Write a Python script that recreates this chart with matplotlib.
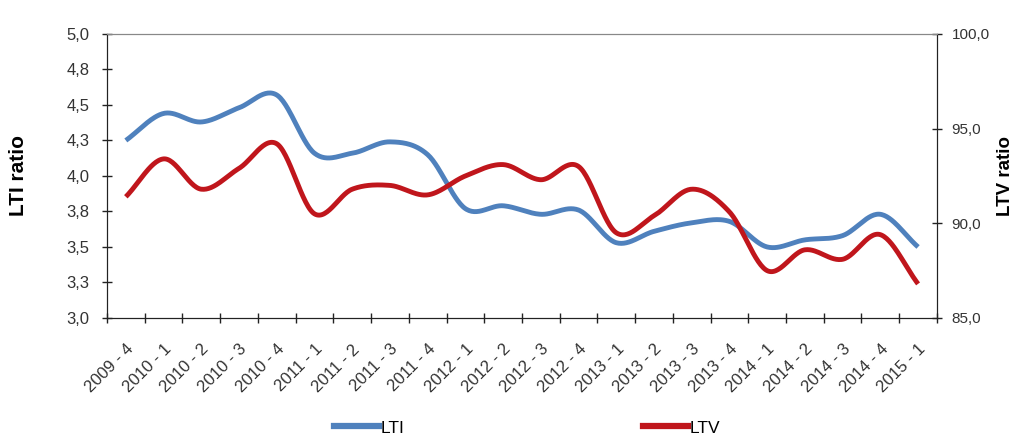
import numpy as np
import matplotlib
matplotlib.use("Agg")
import matplotlib.pyplot as plt
from matplotlib.ticker import FuncFormatter
from matplotlib.lines import Line2D
from decimal import Decimal, ROUND_HALF_UP

plt.rcParams['font.family'] = ['Liberation Sans', 'DejaVu Sans']

quarters = ["2009 - 4", "2010 - 1", "2010 - 2", "2010 - 3", "2010 - 4",
            "2011 - 1", "2011 - 2", "2011 - 3", "2011 - 4",
            "2012 - 1", "2012 - 2", "2012 - 3", "2012 - 4",
            "2013 - 1", "2013 - 2", "2013 - 3", "2013 - 4",
            "2014 - 1", "2014 - 2", "2014 - 3", "2014 - 4", "2015 - 1"]
lti = [4.25, 4.44, 4.38, 4.48, 4.57, 4.16, 4.16, 4.24, 4.15, 3.77, 3.79,
       3.73, 3.76, 3.53, 3.61, 3.67, 3.68, 3.50, 3.55, 3.58, 3.73, 3.50]
ltv = [91.4, 93.4, 91.8, 92.9, 94.2, 90.5, 91.8, 92.0, 91.5, 92.5, 93.1,
       92.3, 93.0, 89.5, 90.4, 91.8, 90.6, 87.5, 88.6, 88.1, 89.4, 86.8]

BLUE = '#4F81BD'
RED = '#C0161C'


def fmt(v, p=None):
    d = Decimal(str(round(v, 6))).quantize(Decimal('0.1'), rounding=ROUND_HALF_UP)
    return str(d).replace('.', ',')


def smooth(x, y, n=30):
    """Catmull-Rom smoothing through the data points (like Excel smoothed lines)."""
    x = np.asarray(x, float)
    y = np.asarray(y, float)
    px = np.concatenate([[2 * x[0] - x[1]], x, [2 * x[-1] - x[-2]]])
    py = np.concatenate([[2 * y[0] - y[1]], y, [2 * y[-1] - y[-2]]])
    xs, ys = [], []
    t = np.linspace(0, 1, n, endpoint=False)

    def f(a0, a1, a2, a3):
        return 0.5 * ((2 * a1) + (-a0 + a2) * t +
                      (2 * a0 - 5 * a1 + 4 * a2 - a3) * t ** 2 +
                      (-a0 + 3 * a1 - 3 * a2 + a3) * t ** 3)

    for i in range(1, len(px) - 2):
        xs.append(f(px[i - 1], px[i], px[i + 1], px[i + 2]))
        ys.append(f(py[i - 1], py[i], py[i + 1], py[i + 2]))
    xs.append([x[-1]])
    ys.append([y[-1]])
    return np.concatenate(xs), np.concatenate(ys)


fig = plt.figure(figsize=(10.14, 4.38), dpi=100)
ax = fig.add_axes([0.1055, 0.274, 0.8185, 0.6486])
ax2 = ax.twinx()

x = np.arange(len(quarters))
sx, sy = smooth(x, lti)
ax.plot(sx, sy, color=BLUE, lw=3.5, solid_capstyle='butt', zorder=3)
sx2, sy2 = smooth(x, ltv)
ax2.plot(sx2, sy2, color=RED, lw=3.5, solid_capstyle='butt', zorder=3)

ax.set_xlim(-0.5, len(quarters) - 0.5)
ax.set_ylim(3.0, 5.0)
ax2.set_ylim(85, 100)

ax.set_yticks(np.arange(3.0, 5.01, 0.25))
ax.yaxis.set_major_formatter(FuncFormatter(fmt))
ax2.set_yticks([85, 90, 95, 100])
ax2.yaxis.set_major_formatter(FuncFormatter(fmt))

ax.set_xticks(x)
ax.set_xticklabels(quarters, rotation=45, ha='right', rotation_mode='anchor',
                   fontsize=12, color='#333333')
ax.set_xticks(np.arange(-0.5, len(quarters), 1), minor=True)
ax.tick_params(axis='x', which='major', length=0, pad=17)
ax.tick_params(axis='x', which='minor', length=7, direction='inout', width=1, color='#222222')
ax.tick_params(axis='y', which='major', length=7, direction='inout', width=1, pad=9,
               labelsize=12, color='#222222', labelcolor='#333333')
ax2.tick_params(axis='y', which='major', length=7, direction='inout', width=1, pad=7,
                labelsize=11, color='#222222', labelcolor='#333333')

for a in (ax, ax2):
    a.spines['top'].set_color('#888888')
    a.spines['left'].set_color('#222222')
    a.spines['right'].set_color('#222222')
    a.spines['bottom'].set_color('#222222')
    a.set_facecolor('none')

ax.set_ylabel("LTI ratio", fontsize=15, fontweight='bold')
ax.yaxis.set_label_coords(-0.095, 0.5)
ax2.set_ylabel("LTV ratio", fontsize=13.5, fontweight='bold')
ax2.yaxis.set_label_coords(1.072, 0.5)

handles = [Line2D([], [], color=BLUE, lw=4.5), Line2D([], [], color=RED, lw=4.5)]
fig.legend(handles, ["LTI", "LTV"], loc='lower center', bbox_to_anchor=(0.52, -0.03),
           ncol=2, frameon=False, handlelength=2.6, handletextpad=0.1,
           columnspacing=13.7, prop={'size': 12.5})

fig.savefig("out.png", dpi=100)
